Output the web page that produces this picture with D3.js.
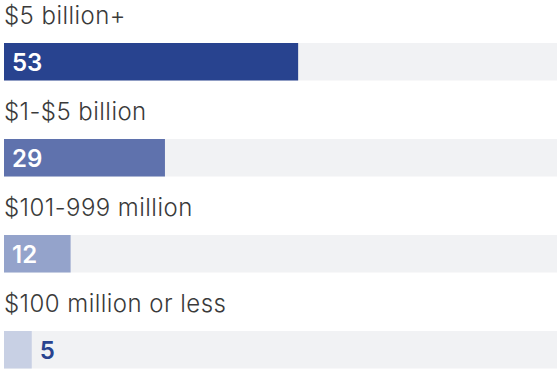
<!DOCTYPE html>
<html>
<head>
<meta charset="utf-8">
<script src="https://cdn.jsdelivr.net/npm/d3@7"></script>
<style>
  html, body { margin: 0; padding: 0; background: #ffffff; }
  svg { display: block; }
</style>
</head>
<body>
<div id="chart"></div>
<script>
// Share of respondents by company revenue
const categories = ["$5 billion+", "$1-$5 billion", "$101-999 million", "$100 million or less"];
const values = [53, 29, 12, 5];
const barColors = ["#28438f", "#5f72ad", "#94a3cb", "#c8d0e4"];
const domainMax = 100;

const width = 557, height = 369;
const rowPitch = 96, barTop = 43, barH = 37.5;

const svg = d3.select("#chart").append("svg")
  .attr("width", width)
  .attr("height", height);

const x = d3.scaleLinear().domain([0, domainMax]).range([4, 559]);
const y = d3.scaleBand().domain(categories).range([0, rowPitch * categories.length]).padding(0);

const rows = svg.selectAll("g.row")
  .data(categories.map((c, i) => ({ cat: c, value: values[i], color: barColors[i] })))
  .join("g")
  .attr("class", "row")
  .attr("transform", d => `translate(0,${y(d.cat)})`);

// category label above each bar
rows.append("text")
  .attr("x", 4)
  .attr("y", 24)
  .attr("fill", "#3a3a3a")
  .style("font-family", "Inter, 'Noto Sans', sans-serif")
  .style("font-size", "24px")
  .style("font-weight", 300)
  .style("letter-spacing", "0.45px")
  .text(d => d.cat);

// background track
rows.append("rect")
  .attr("x", x(0))
  .attr("y", barTop)
  .attr("width", x(domainMax) - x(0))
  .attr("height", barH)
  .attr("fill", "#f1f2f4");

// value bar
rows.append("rect")
  .attr("x", x(0))
  .attr("y", barTop)
  .attr("width", d => x(d.value) - x(0))
  .attr("height", barH)
  .attr("fill", d => d.color);

// value label: inside the bar when it fits, otherwise just after it
rows.append("text")
  .attr("x", d => d.value >= 10 ? x(0) + 8 : x(d.value) + 8)
  .attr("y", barTop + 28)
  .attr("fill", d => d.value >= 10 ? "#ffffff" : "#28438f")
  .style("font-family", "Inter, 'Noto Sans', sans-serif")
  .style("font-size", "24px")
  .style("font-weight", 600)
  .text(d => d.value);
</script>
</body>
</html>
